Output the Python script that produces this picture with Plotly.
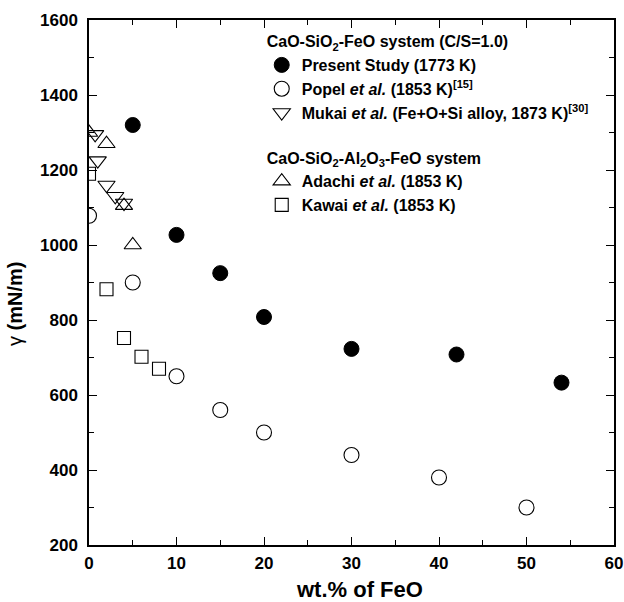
import plotly.graph_objects as go

present_x = [5, 10, 15, 20, 30, 42, 54]
present_y = [1320, 1027, 925, 808, 723, 708, 633]
popel_x = [0, 5, 10, 15, 20, 30, 40, 50]
popel_y = [1078, 900, 650, 560, 500, 440, 380, 300]
mukai_x = [0.7, 1, 2, 3, 4]
mukai_y = [1295, 1225, 1160, 1130, 1112]
adachi_x = [0, 2, 4, 5]
adachi_y = [1300, 1270, 1105, 1000]
kawai_x = [0, 2, 4, 6, 8]
kawai_y = [1190, 882, 752, 702, 670]

FONT = "Liberation Sans, Arial, Helvetica, sans-serif"
line = dict(color="black", width=1.1)

fig = go.Figure()
g1 = "CaO-SiO<sub>2</sub>-FeO system (C/S=1.0)"
g2 = "CaO-SiO<sub>2</sub>-Al<sub>2</sub>O<sub>3</sub>-FeO system"
gfont = dict(size=16, family=FONT, color="black", weight="bold")

fig.add_trace(go.Scatter(x=present_x, y=present_y, mode="markers",
    name="Present Study (1773 K)", legendgroup="g1",
    legendgrouptitle=dict(text=g1, font=gfont),
    marker=dict(symbol="circle", size=15, color="black", line=dict(color="black", width=1))))
fig.add_trace(go.Scatter(x=popel_x, y=popel_y, mode="markers",
    name="Popel <i>et al.</i> (1853 K)<sup>[15]</sup>", legendgroup="g1",
    marker=dict(symbol="circle-open", size=15, color="black", line=line)))
fig.add_trace(go.Scatter(x=mukai_x, y=mukai_y, mode="markers",
    name="Mukai <i>et al.</i> (Fe+O+Si alloy, 1873 K)<sup>[30]</sup>", legendgroup="g1",
    marker=dict(symbol="triangle-down-open", size=15, color="black", line=line)))
fig.add_trace(go.Scatter(x=adachi_x, y=adachi_y, mode="markers",
    name="Adachi <i>et al.</i> (1853 K)", legendgroup="g2",
    legendgrouptitle=dict(text=g2, font=gfont),
    marker=dict(symbol="triangle-up-open", size=15, color="black", line=line)))
fig.add_trace(go.Scatter(x=kawai_x, y=kawai_y, mode="markers",
    name="Kawai <i>et al.</i> (1853 K)", legendgroup="g2",
    marker=dict(symbol="square-open", size=13, color="black", line=line)))

axis_common = dict(showline=True, linecolor="black", linewidth=1.5, mirror="ticks",
                   ticks="inside", ticklen=8, tickwidth=1.2, tickcolor="black",
                   showgrid=False, zeroline=False, automargin=False,
                   ticklabeloverflow="allow",
                   tickfont=dict(size=17, family=FONT, color="black", weight="bold"))

fig.update_xaxes(range=[0, 60], dtick=10, tick0=0, ticklabelstandoff=2,
                 minor=dict(ticks="inside", ticklen=5, dtick=5, tickcolor="black", tickwidth=1.2),
                 **axis_common)
fig.update_yaxes(range=[200, 1600], dtick=200, tick0=200, ticklabelstandoff=6,
                 minor=dict(ticks="inside", ticklen=5, dtick=100, tickcolor="black", tickwidth=1.2),
                 **axis_common)

fig.add_annotation(text="wt.% of FeO", xref="paper", yref="paper", x=0.515, y=-0.085,
                   xanchor="center", yanchor="middle", showarrow=False,
                   font=dict(size=22, family=FONT, color="black", weight="bold"))
fig.add_annotation(text="<span style='font-weight:normal'>γ</span> (mN/m)",
                   xref="paper", yref="paper", x=-0.142, y=0.46, textangle=-90,
                   xanchor="center", yanchor="middle", showarrow=False,
                   font=dict(size=20, family=FONT, color="black", weight="bold"))

fig.update_layout(
    width=624, height=602,
    margin=dict(l=89, r=10, t=20, b=57),
    plot_bgcolor="white", paper_bgcolor="white",
    font=dict(family=FONT, color="black", size=16, weight="bold"),
    legend=dict(x=0.329, y=0.992, xanchor="left", yanchor="top",
                bgcolor="rgba(0,0,0,0)", borderwidth=0,
                font=dict(size=16, family=FONT, color="black", weight="bold"),
                tracegroupgap=21, itemsizing="trace"),
)

fig.write_html("out.html")
